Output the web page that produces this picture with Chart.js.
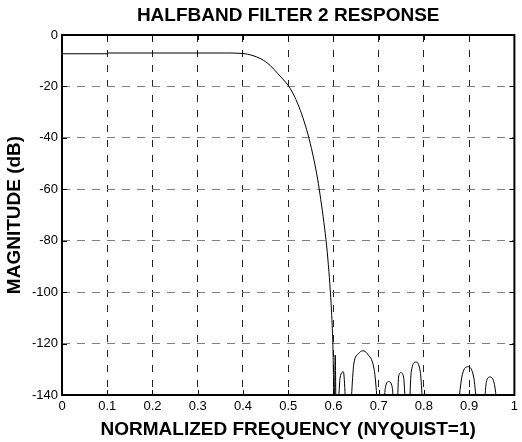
<!DOCTYPE html>
<html>
<head>
<meta charset="utf-8">
<script src="https://cdn.jsdelivr.net/npm/chart.js@4/dist/chart.umd.min.js"></script>
<style>
  html, body { margin: 0; padding: 0; background: #fff; }
</style>
</head>
<body>
<canvas id="filterChart" width="522" height="442"></canvas>
<script>
// Halfband filter 2 response
var chartTitle = 'HALFBAND FILTER 2 RESPONSE';
var xTitle = 'NORMALIZED FREQUENCY (NYQUIST=1)';
var yTitle = 'MAGNITUDE (dB)';

var xTickLabels = ['0', '0.1', '0.2', '0.3', '0.4', '0.5', '0.6', '0.7', '0.8', '0.9', '1'];
var yTickLabels = ['0', '-20', '-40', '-60', '-80', '-100', '-120', '-140'];

// normalized frequency
var freq = [
    0.000, 0.100, 0.102, 0.200, 0.300, 0.360, 0.400, 0.420, 0.440, 0.460,
    0.477, 0.490, 0.500, 0.510, 0.524, 0.535, 0.546, 0.557, 0.565, 0.572,
    0.579, 0.585, 0.590, 0.594, 0.597, 0.599, 0.600, 0.6015, 0.604, 0.606,
    0.608, 0.615, 0.622, 0.630,
    0.635, 0.645, 0.655, 0.665, 0.675, 0.690, 0.703,
    0.708, 0.715, 0.722, 0.730, 0.736,
    0.740, 0.744, 0.749, 0.755, 0.762,
    0.766, 0.772, 0.782, 0.792, 0.800,
    0.830, 0.860,
    0.872, 0.885, 0.898, 0.910, 0.922,
    0.930, 0.938, 0.946, 0.956, 0.966,
    1.000
];

// magnitude in dB (values under -140 fall off the bottom of the plot)
var magDb = [
    -7.3, -7.3, -7.0, -7.0, -7.0, -7.0, -7.2, -7.9, -9.3, -11.8,
    -15.0, -17.5, -19.6, -22.5, -28.0, -33.5, -40.2, -48.6, -56.0, -64.0,
    -73.0, -82.0, -92.0, -102.0, -112.0, -122.0, -132.0, -150.0, -124.5, -150.0,
    -150.0, -133.0, -131.0, -150.0,
    -150.0, -128.0, -124.0, -122.8, -124.0, -130.0, -150.0,
    -150.0, -137.0, -134.8, -137.0, -150.0,
    -150.0, -133.0, -131.3, -133.0, -150.0,
    -150.0, -131.0, -127.2, -131.0, -150.0,
    -160.0, -160.0,
    -150.0, -132.0, -129.0, -133.0, -150.0,
    -150.0, -135.0, -133.0, -136.0, -150.0,
    -160.0
];

var points = freq.map(function(f, i) {
    return { x: f, y: magDb[i] };
});

// frame, inner tick marks and the title over the plot area
var framePlugin = {
    id: 'frame',
    afterDraw: function(chart) {
        var ctx = chart.ctx;
        var area = chart.chartArea;
        var xs = chart.scales.x;
        var ys = chart.scales.y;
        ctx.save();
        ctx.strokeStyle = '#000';
        ctx.lineWidth = 1;
        ctx.beginPath();
        xs.ticks.forEach(function(t) {
            var px = Math.round(xs.getPixelForValue(t.value)) + 0.5;
            ctx.moveTo(px, area.bottom);
            ctx.lineTo(px, area.bottom - 5);
            ctx.moveTo(px, area.top);
            ctx.lineTo(px, area.top + 5);
        });
        ys.ticks.forEach(function(t) {
            var py = Math.round(ys.getPixelForValue(t.value)) + 0.5;
            ctx.moveTo(area.left, py);
            ctx.lineTo(area.left + 5, py);
            ctx.moveTo(area.right, py);
            ctx.lineTo(area.right - 5, py);
        });
        ctx.stroke();
        ctx.lineWidth = 2;
        ctx.strokeRect(area.left, area.top, area.right - area.left, area.bottom - area.top);

        ctx.fillStyle = '#000';
        ctx.font = 'bold 19px "Liberation Sans", Arial, sans-serif';
        ctx.textAlign = 'center';
        ctx.textBaseline = 'middle';
        ctx.fillText(chartTitle, (area.left + area.right) / 2, 16);
        ctx.restore();
    }
};

Chart.defaults.font.family = '"Liberation Sans", Arial, sans-serif';
Chart.defaults.color = '#000';

var ctx = document.getElementById('filterChart').getContext('2d');
var filterChart = new Chart(ctx, {
    type: 'line',
    data: {
        datasets: [{
            label: 'Response',
            data: points,
            borderColor: '#000',
            borderWidth: 1,
            pointRadius: 0,
            fill: false,
            cubicInterpolationMode: 'monotone'
        }]
    },
    options: {
        responsive: false,
        animation: false,
        devicePixelRatio: 1,
        layout: { padding: { top: 35, right: 3, left: 0, bottom: 0 } },
        plugins: {
            legend: { display: false },
            tooltip: { enabled: false }
        },
        scales: {
            x: {
                type: 'linear',
                min: 0,
                max: 1,
                ticks: {
                    stepSize: 0.1,
                    padding: 4,
                    maxRotation: 0,
                    font: { size: 13 },
                    callback: function(value, index) {
                        return xTickLabels[index];
                    }
                },
                grid: { color: '#222', lineWidth: 1, drawTicks: false },
                border: { display: false, dash: [7, 8] },
                title: {
                    display: true,
                    text: xTitle,
                    font: { size: 19, weight: 'bold' },
                    padding: { top: 0, bottom: 1 }
                },
                afterFit: function(scale) { scale.height = 47; }
            },
            y: {
                min: -140,
                max: 0,
                ticks: {
                    stepSize: 20,
                    padding: 4,
                    font: { size: 13 },
                    callback: function(value, index) {
                        return yTickLabels[yTickLabels.length - 1 - index];
                    }
                },
                grid: { color: '#808080', lineWidth: 1, drawTicks: false },
                border: { display: false, dash: [8, 7] },
                title: {
                    display: true,
                    text: yTitle,
                    font: { size: 19, weight: 'bold' },
                    padding: { top: 3, bottom: 0 }
                },
                afterFit: function(scale) { scale.width = 62; }
            }
        }
    },
    plugins: [framePlugin]
});
</script>
</body>
</html>
